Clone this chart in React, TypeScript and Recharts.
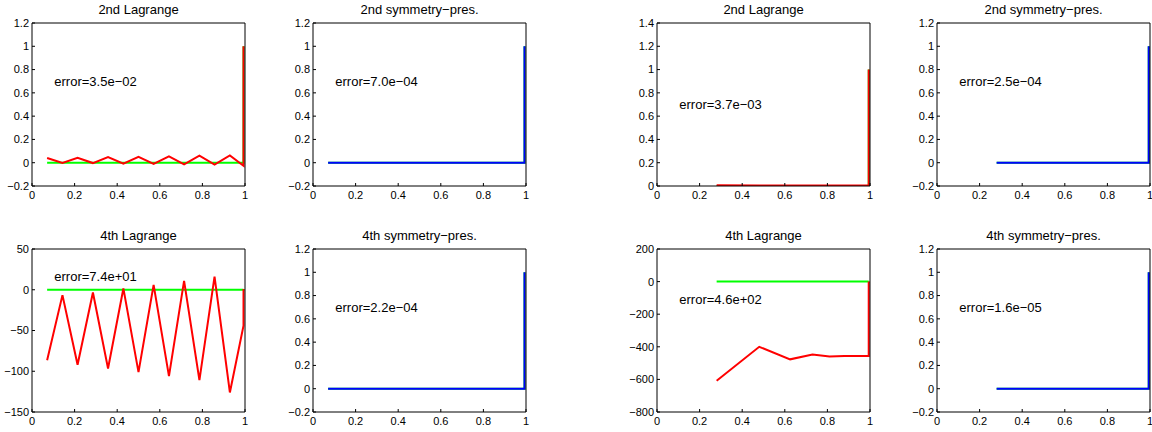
import React from "react";
import { LineChart, Line, XAxis, YAxis, ReferenceDot } from "recharts";

// mesh nodes (uniform mesh on the left group, graded mesh on the right group)
const uniformNodes = [0.071, 0.143, 0.214, 0.286, 0.357, 0.429, 0.5, 0.571, 0.643, 0.714, 0.786, 0.857, 0.929, 0.993, 0.993];
const gradedNodes = [0.28, 0.48, 0.625, 0.73, 0.81, 0.88, 0.94, 0.994, 0.994];

// exact solution
const exactUniform = [0, 0, 0, 0, 0, 0, 0, 0, 0, 0, 0, 0, 0, 0, 1];
const exactGraded = [0, 0, 0, 0, 0, 0, 0, 0, 1];

// numerical solutions
const lag2Uniform = [0.04, -0.003, 0.043, -0.003, 0.049, -0.009, 0.051, -0.011, 0.054, -0.014, 0.06, -0.017, 0.063, -0.026, 1];
const sym2Uniform = [0, 0, 0, 0, 0, 0, 0, 0, 0, 0, 0, 0, 0, 0, 1];
const lag4Uniform = [-86.5, -6.6, -92, -3.3, -96.7, 1.6, -101, 6, -106, 11, -111, 16, -126, -44, 1];
const sym4Uniform = [0, 0, 0, 0, 0, 0, 0, 0, 0, 0, 0, 0, 0, 0, 1];
const lag2Graded = [0.006, 0.004, 0.005, 0.004, 0.004, 0.004, 0.004, 0.004, 1];
const sym2Graded = [0, 0, 0, 0, 0, 0, 0, 0, 1];
const lag4Graded = [-608, -400, -477, -448, -460, -457, -456, -456, 1];
const sym4Graded = [0, 0, 0, 0, 0, 0, 0, 0, 1];

const errorTexts = [
  "error=3.5e\u221202", "error=7.0e\u221204", "error=3.7e\u221203", "error=2.5e\u221204",
  "error=7.4e+01", "error=2.2e\u221204", "error=4.6e+02", "error=1.6e\u221205",
];

const xTicks = [0, 0.2, 0.4, 0.6, 0.8, 1];
const unitTicks = [-0.2, 0, 0.2, 0.4, 0.6, 0.8, 1, 1.2];
const posTicks = [0, 0.2, 0.4, 0.6, 0.8, 1, 1.2, 1.4];
const lag4UniformTicks = [-150, -100, -50, 0, 50];
const lag4GradedTicks = [-800, -600, -400, -200, 0, 200];

const toPoints = (xs: number[], ys: number[]) => xs.map((x, i) => ({ x, y: ys[i] }));

const FONT = "'Liberation Sans', Arial, Helvetica, sans-serif";
const colLefts = [32, 313, 657, 937];
const rowTops = [23, 249];

const fmt = (v: number) => String(+Number(v).toFixed(1)).replace("-", "\u2212");

const panels = [
  { title: "2nd Lagrange", col: 0, row: 0, nodes: uniformNodes, exact: exactUniform, num: lag2Uniform, color: "#ff0000", ticks: unitTicks, errY: 0.7, err: errorTexts[0] },
  { title: "2nd symmetry\u2212pres.", col: 1, row: 0, nodes: uniformNodes, exact: exactUniform, num: sym2Uniform, color: "#0000ff", ticks: unitTicks, errY: 0.7, err: errorTexts[1] },
  { title: "2nd Lagrange", col: 2, row: 0, nodes: gradedNodes, exact: exactGraded, num: lag2Graded, color: "#ff0000", ticks: posTicks, errY: 0.7, err: errorTexts[2] },
  { title: "2nd symmetry\u2212pres.", col: 3, row: 0, nodes: gradedNodes, exact: exactGraded, num: sym2Graded, color: "#0000ff", ticks: unitTicks, errY: 0.7, err: errorTexts[3] },
  { title: "4th Lagrange", col: 0, row: 1, nodes: uniformNodes, exact: exactUniform, num: lag4Uniform, color: "#ff0000", ticks: lag4UniformTicks, errY: 17, err: errorTexts[4] },
  { title: "4th symmetry\u2212pres.", col: 1, row: 1, nodes: uniformNodes, exact: exactUniform, num: sym4Uniform, color: "#0000ff", ticks: unitTicks, errY: 0.7, err: errorTexts[5] },
  { title: "4th Lagrange", col: 2, row: 1, nodes: gradedNodes, exact: exactGraded, num: lag4Graded, color: "#ff0000", ticks: lag4GradedTicks, errY: -110, err: errorTexts[6] },
  { title: "4th symmetry\u2212pres.", col: 3, row: 1, nodes: gradedNodes, exact: exactGraded, num: sym4Graded, color: "#0000ff", ticks: unitTicks, errY: 0.7, err: errorTexts[7] },
];

const tickStyle = { fontSize: 11, fill: "#000", fontFamily: FONT };

const Panel = ({ p }: { p: (typeof panels)[number] }) => {
  const domain = [p.ticks[0], p.ticks[p.ticks.length - 1]];
  return (
    <div style={{ position: "absolute", left: colLefts[p.col] - 32, top: rowTops[p.row] - 23 }}>
      <LineChart width={270} height={216} margin={{ top: 22, right: 24, bottom: 0, left: 2 }}>
        <XAxis dataKey="x" type="number" domain={[0, 1]} ticks={xTicks} tickFormatter={fmt}
          allowDataOverflow stroke="#000" tick={tickStyle} tickSize={-3} tickMargin={8} height={30} />
        <XAxis xAxisId="top" orientation="top" type="number" domain={[0, 1]} ticks={xTicks}
          allowDataOverflow stroke="#000" tick={false} tickSize={-3} height={1}
          label={{ value: p.title, position: "top", offset: 8, fontSize: 13, fill: "#000", fontFamily: FONT }} />
        <YAxis type="number" domain={domain} ticks={p.ticks} tickFormatter={fmt} allowDataOverflow
          stroke="#000" tick={tickStyle} tickSize={-3} tickMargin={6} width={30} />
        <YAxis yAxisId="right" orientation="right" type="number" domain={domain} ticks={p.ticks}
          allowDataOverflow stroke="#000" tick={false} tickSize={-3} width={1} />
        <Line data={toPoints(p.nodes, p.exact)} dataKey="y" stroke="#00ff00" strokeWidth={2}
          dot={false} isAnimationActive={false} />
        <Line data={toPoints(p.nodes, p.num)} dataKey="y" stroke={p.color} strokeWidth={2}
          dot={false} isAnimationActive={false} />
        <ReferenceDot x={0.1} y={p.errY} r={1} fill="none" stroke="none"
          label={{ value: p.err, position: "right", offset: 0, fontSize: 13, fill: "#000", fontFamily: FONT }} />
      </LineChart>
    </div>
  );
};

export default function App() {
  return (
    <div style={{ position: "absolute", left: 0, top: 0, width: 1152, height: 432, overflow: "hidden", background: "#fff" }}>
      {panels.map((p, i) => (
        <Panel key={i} p={p} />
      ))}
    </div>
  );
}
